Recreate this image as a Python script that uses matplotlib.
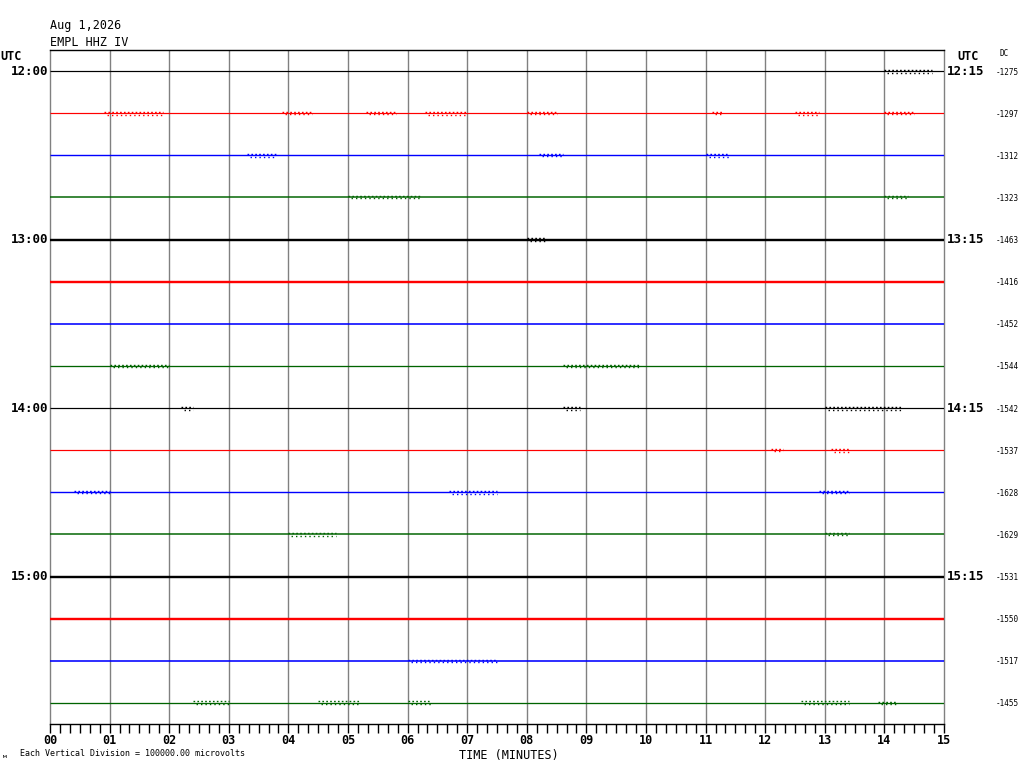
import matplotlib
matplotlib.use("Agg")
import matplotlib.pyplot as plt
import numpy as np

# ---- data ----
title_date = "Aug 1,2026"
station = "EMPL HHZ IV"
left_hours = ["12:00", "13:00", "14:00", "15:00"]
right_hours = ["12:15", "13:15", "14:15", "15:15"]
dc_values = [-1275, -1297, -1312, -1323, -1463, -1416, -1452, -1544,
             -1542, -1537, -1628, -1629, -1531, -1550, -1517, -1455]
row_colors = ["black", "red", "blue", "#006400"]
# background noise thickness per trace (in pixels)
noise_px = [1.2, 1.2, 1.4, 1.5, 2.4, 2.4, 1.6, 1.3,
            1.2, 1.2, 1.4, 1.5, 2.4, 2.4, 1.6, 1.3]
# visible bursts per trace: (start minute, end minute, half amplitude in pixels)
bursts = {
    0: [(14.0, 14.8, 1.5)],
    1: [(0.9, 1.9, 1.5), (3.9, 4.4, 1.2), (5.3, 5.8, 1.0), (6.3, 7.0, 1.5),
        (8.0, 8.5, 1.2), (11.1, 11.3, 1.0), (12.5, 12.9, 1.5), (14.0, 14.5, 1.0)],
    2: [(3.3, 3.8, 1.5), (11.0, 11.4, 1.5), (8.2, 8.6, 1.0)],
    3: [(5.0, 6.2, 1.0), (14.0, 14.4, 1.0)],
    4: [(8.0, 8.3, 1.5)],
    7: [(1.0, 2.0, 1.0), (8.6, 9.9, 1.0)],
    8: [(2.2, 2.4, 1.5), (8.6, 8.9, 1.5), (13.0, 14.3, 1.5)],
    9: [(12.1, 12.3, 1.0), (13.1, 13.4, 1.5)],
    10: [(0.4, 1.0, 1.0), (6.7, 7.5, 1.5), (12.9, 13.4, 1.0)],
    11: [(4.0, 4.8, 1.5), (13.0, 13.4, 1.0)],
    14: [(6.0, 7.5, 1.0)],
    15: [(2.4, 3.0, 1.5), (4.5, 5.2, 1.5), (6.0, 6.4, 1.5), (12.6, 13.4, 1.5), (13.9, 14.2, 1.0)],
}
minutes = np.arange(0, 16)
tick_labels = ["%02d" % m for m in minutes]

W, H = 1024, 768
fig = plt.figure(figsize=(W / 100, H / 100), dpi=100)
x0, x1, y0, y1 = 50, 944, 50, 724
ax = fig.add_axes([x0 / W, 1 - y1 / H, (x1 - x0) / W, (y1 - y0) / H])
nrows = len(dc_values)
ax.set_xlim(0, 15)
ax.set_ylim(nrows - 0.5, -0.5)
row_px = (y1 - y0) / nrows
px = 1 / row_px  # one pixel in row units

for m in range(1, 15):
    ax.axvline(m, color="#808080", lw=1.0, zorder=1)

for i in range(nrows):
    c = row_colors[i % 4]
    ax.plot([0, 15], [i, i], color=c, lw=noise_px[i] * 0.72, zorder=3,
            solid_capstyle="butt")
    for (a, b, amp) in bursts.get(i, []):
        ax.plot([a, b], [i - amp * px] * 2, color=c, lw=1.0, ls=(0, (1.2, 1.6)), zorder=3)
        ax.plot([a, b], [i + amp * px] * 2, color=c, lw=1.0, ls=(1, (1.0, 2.2)), zorder=3)

for s in ["left", "right"]:
    ax.spines[s].set_color("#808080")
ax.spines["top"].set_color("black")
ax.spines["bottom"].set_color("black")
for s in ax.spines.values():
    s.set_linewidth(1.0)

mono = "DejaVu Sans Mono"
ax.set_yticks([])
ax.set_xticks(minutes)
ax.set_xticks(np.arange(0, 15.01, 1 / 6), minor=True)
ax.tick_params(axis="x", which="both", direction="out", length=6.5, width=1, color="black")
ax.set_xticklabels(tick_labels, fontfamily=mono, fontweight="bold", fontsize=8.5)
ax.tick_params(axis="x", pad=1)

fig.text(50 / W, 1 - 26 / H, title_date, family=mono, fontsize=8.5, va="center", ha="left")
fig.text(50 / W, 1 - 42 / H, station, family=mono, fontsize=8.5, va="center", ha="left")
fig.text(0 / W, 1 - 57 / H, "UTC", family=mono, fontsize=8.5, fontweight="bold", va="center", ha="left")
fig.text(968 / W, 1 - 57 / H, "UTC", family=mono, fontsize=8.5, fontweight="bold", va="center", ha="center")
fig.text(1004 / W, 1 - 54 / H, "DC", family=mono, fontsize=5.5, va="center", ha="center")

for k, (lh, rh) in enumerate(zip(left_hours, right_hours)):
    r = k * 4
    yfig = 1 - (y0 + (r + 0.5) * row_px) / H
    fig.text(48 / W, yfig, lh, family=mono, fontsize=9, fontweight="bold", va="center", ha="right")
    fig.text(947 / W, yfig, rh, family=mono, fontsize=9, fontweight="bold", va="center", ha="left")

for i, v in enumerate(dc_values):
    yfig = 1 - (y0 + (i + 0.5) * row_px + 1) / H
    fig.text(996 / W, yfig, str(v), family=mono, fontsize=5.5, va="center", ha="left")

fig.text(509 / W, 1 - 755 / H, "TIME (MINUTES)", family=mono, fontsize=8.5, va="center", ha="center")
fig.text(20 / W, 1 - 754 / H, "Each Vertical Division = 100000.00 microvolts",
         family=mono, fontsize=6, va="center", ha="left")
fig.text(3 / W, 1 - 756 / H, "м", family=mono, fontsize=4.5, va="center", ha="left")

fig.savefig("out.png", dpi=100, facecolor="white")
